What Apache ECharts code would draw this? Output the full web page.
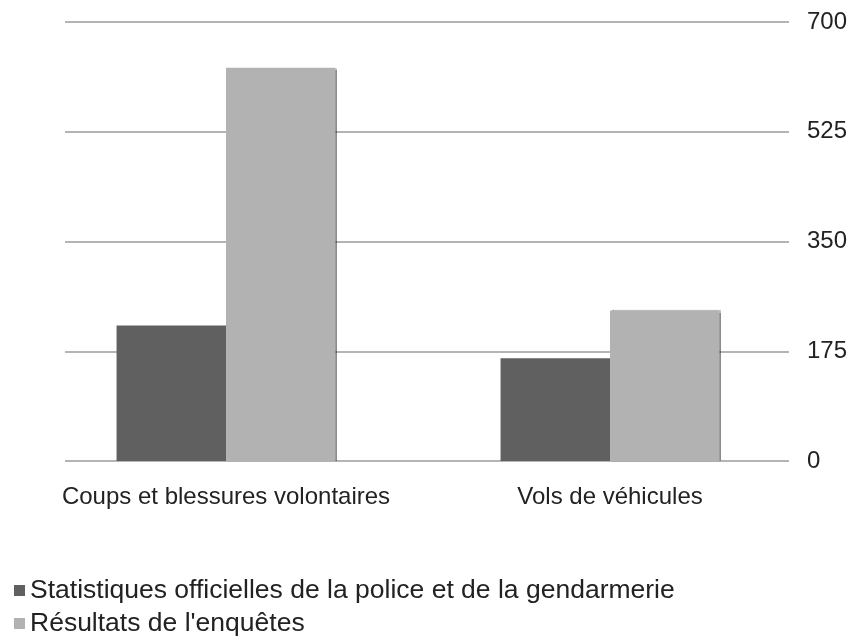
<!DOCTYPE html>
<html>
<head>
<meta charset="utf-8">
<script src="https://cdn.jsdelivr.net/npm/echarts@6/dist/echarts.min.js"></script>
<style>
  html, body { margin: 0; padding: 0; background: #fff; }
  #chart { width: 854px; height: 636px; }
</style>
</head>
<body>
<div id="chart"></div>
<script>
const categories = ['Coups et blessures volontaires', 'Vols de véhicules']
const seriesNames = [
  'Statistiques officielles de la police et de la gendarmerie',
  "Résultats de l'enquêtes"
]
const officialValues = [216, 164]
const surveyValues = [627, 240]
const yTicks = [0, 175, 350, 525, 700]

const chart = echarts.init(document.getElementById('chart'))

const font = 'Liberation Sans, Arial, sans-serif'
const legendBase = {
  left: 9,
  itemWidth: 11,
  itemHeight: 11,
  icon: 'rect',
  textStyle: { color: '#222', fontSize: 26.5, fontFamily: font, padding: [0, 0, 0, 0] }
}

chart.setOption({
  animation: false,
  legend: [
    { ...legendBase, top: 572, data: [seriesNames[0]] },
    { ...legendBase, top: 605, data: [seriesNames[1]] }
  ],
  grid: [
    { left: 34, right: 52, top: 22, bottom: 175 },
    { left: 65, right: 65, top: 22, bottom: 175 }
  ],
  xAxis: [
    {
      type: 'category',
      gridIndex: 0,
      data: categories,
      axisLine: { show: false },
      axisTick: { show: false },
      axisLabel: { color: '#222', fontSize: 24, fontFamily: font, margin: 24, interval: 0 }
    },
    { type: 'value', gridIndex: 1, show: false, min: 0, max: 1 }
  ],
  yAxis: [
    { type: 'value', gridIndex: 0, show: false, min: yTicks[0], max: yTicks[yTicks.length - 1] },
    {
      type: 'value',
      gridIndex: 1,
      position: 'right',
      min: yTicks[0],
      max: yTicks[yTicks.length - 1],
      interval: yTicks[1] - yTicks[0],
      axisLine: { show: false },
      axisTick: { show: false },
      splitLine: { lineStyle: { color: '#b4b4b4', width: 2 } },
      axisLabel: { color: '#222', fontSize: 24, fontFamily: font, margin: 18 }
    }
  ],
  series: [
    {
      name: seriesNames[0],
      type: 'bar',
      xAxisIndex: 0,
      yAxisIndex: 0,
      data: officialValues,
      barGap: '0%',
      barCategoryGap: '43%',
      itemStyle: { color: '#606060' },
      z: 3
    },
    {
      name: seriesNames[1],
      type: 'bar',
      xAxisIndex: 0,
      yAxisIndex: 0,
      data: surveyValues,
      itemStyle: {
        color: '#b2b2b2',
        shadowColor: 'rgba(0,0,0,0.45)',
        shadowOffsetX: 2,
        shadowBlur: 1
      },
      z: 2
    }
  ]
})
</script>
</body>
</html>
